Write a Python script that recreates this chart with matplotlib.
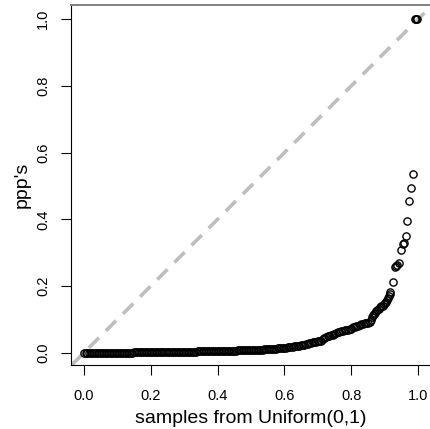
import matplotlib
matplotlib.use("Agg")
import matplotlib.pyplot as plt

# sorted uniform samples (x) and their ppp values (y)
x_flat = [0.000, 0.005, 0.010, 0.015, 0.020, 0.025, 0.030, 0.035, 0.040, 0.045,
          0.050, 0.055, 0.060, 0.065, 0.070, 0.075, 0.080, 0.085, 0.090, 0.095,
          0.100, 0.105, 0.110, 0.115, 0.120, 0.125, 0.130, 0.135, 0.140, 0.145,
          0.150, 0.155, 0.160, 0.165, 0.170, 0.175, 0.180, 0.185, 0.190, 0.195,
          0.200, 0.205, 0.210, 0.215, 0.220, 0.225, 0.230, 0.235, 0.240, 0.245,
          0.250, 0.255, 0.260, 0.265, 0.270, 0.275, 0.280, 0.285, 0.290, 0.295,
          0.300, 0.305, 0.310, 0.315, 0.320, 0.325, 0.330, 0.335, 0.340, 0.345,
          0.350, 0.355, 0.360, 0.365, 0.370, 0.375, 0.380, 0.385, 0.390, 0.395,
          0.400, 0.405, 0.410, 0.415, 0.420, 0.425, 0.430, 0.435, 0.440, 0.445,
          0.450, 0.455, 0.460, 0.465, 0.470, 0.475, 0.480, 0.485, 0.490, 0.495,
          0.500, 0.505, 0.510, 0.515, 0.520, 0.525, 0.530, 0.535, 0.540, 0.545,
          0.550, 0.555, 0.560, 0.565, 0.570, 0.575, 0.580, 0.585, 0.590, 0.595,
          0.600, 0.605, 0.610, 0.615, 0.620, 0.625, 0.630, 0.635, 0.640, 0.645,
          0.650, 0.655, 0.660, 0.665, 0.670, 0.675, 0.680, 0.685, 0.690, 0.695,
          0.700, 0.705, 0.710, 0.715, 0.720, 0.725, 0.730, 0.735, 0.740, 0.745,
          0.750, 0.755, 0.760, 0.765, 0.770, 0.775, 0.780, 0.785, 0.790, 0.795,
          0.800, 0.805, 0.810, 0.815, 0.820, 0.825, 0.830, 0.835, 0.840, 0.845,
          0.850]
y_flat = [0.000, 0.000, 0.000, 0.000, 0.000, 0.000, 0.000, 0.000, 0.000, 0.000,
          0.000, 0.000, 0.000, 0.000, 0.000, 0.000, 0.000, 0.000, 0.000, 0.000,
          0.000, 0.000, 0.000, 0.000, 0.000, 0.000, 0.000, 0.000, 0.000, 0.000,
          0.001, 0.001, 0.001, 0.001, 0.001, 0.001, 0.001, 0.001, 0.001, 0.001,
          0.001, 0.001, 0.001, 0.001, 0.001, 0.001, 0.001, 0.001, 0.002, 0.002,
          0.002, 0.002, 0.002, 0.002, 0.002, 0.002, 0.002, 0.002, 0.003, 0.003,
          0.003, 0.003, 0.003, 0.003, 0.003, 0.003, 0.003, 0.003, 0.004, 0.004,
          0.004, 0.004, 0.004, 0.004, 0.004, 0.004, 0.005, 0.005, 0.005, 0.005,
          0.005, 0.005, 0.005, 0.005, 0.006, 0.006, 0.006, 0.006, 0.006, 0.006,
          0.006, 0.006, 0.007, 0.007, 0.007, 0.007, 0.007, 0.007, 0.008, 0.008,
          0.008, 0.008, 0.008, 0.008, 0.009, 0.009, 0.009, 0.009, 0.010, 0.010,
          0.010, 0.010, 0.011, 0.011, 0.012, 0.012, 0.013, 0.013, 0.014, 0.014,
          0.015, 0.015, 0.016, 0.016, 0.017, 0.018, 0.019, 0.020, 0.021, 0.021,
          0.022, 0.023, 0.024, 0.025, 0.026, 0.028, 0.030, 0.031, 0.032, 0.033,
          0.034, 0.035, 0.036, 0.040, 0.045, 0.048, 0.050, 0.051, 0.052, 0.053,
          0.055, 0.060, 0.062, 0.063, 0.064, 0.066, 0.067, 0.068, 0.068, 0.070,
          0.072, 0.076, 0.078, 0.079, 0.080, 0.083, 0.086, 0.087, 0.088, 0.089,
          0.090]

x_tail = [0.855, 0.858, 0.861, 0.864, 0.868, 0.871, 0.875, 0.878, 0.882, 0.886,
          0.890, 0.894, 0.898, 0.902, 0.905, 0.908, 0.911, 0.913, 0.915, 0.917,
          0.925, 0.930, 0.933, 0.936, 0.942, 0.948, 0.955, 0.958, 0.963, 0.968,
          0.974, 0.980, 0.984, 0.990, 0.993, 0.996]
y_tail = [0.093, 0.098, 0.106, 0.113, 0.117, 0.120, 0.124, 0.128, 0.132, 0.136,
          0.139, 0.141, 0.145, 0.148, 0.153, 0.158, 0.165, 0.171, 0.176, 0.181,
          0.212, 0.256, 0.260, 0.263, 0.268, 0.308, 0.325, 0.330, 0.350, 0.396,
          0.456, 0.494, 0.537, 1.000, 1.000, 1.000]

ticks = [0.0, 0.2, 0.4, 0.6, 0.8, 1.0]
tick_labels = ["0.0", "0.2", "0.4", "0.6", "0.8", "1.0"]

plt.rcParams["font.family"] = ["Liberation Sans", "DejaVu Sans"]

fig = plt.figure(figsize=(4.30, 4.29), dpi=100)
ax = fig.add_axes([0.1651, 0.1492, 0.8349, 0.8392])

ax.axline((0, 0), slope=1, color="#bebebe", lw=2.6, dashes=(4, 2.7), zorder=1)
ax.plot(x_flat + x_tail, y_flat + y_tail, "o", ms=5.2, mfc="none",
        mec="black", mew=1.0, zorder=2)

ax.set_xlim(-0.039, 1.036)
ax.set_ylim(-0.037, 1.043)
ax.set_xticks(ticks)
ax.set_xticklabels(tick_labels)
ax.set_yticks(ticks)
ax.set_yticklabels(tick_labels, rotation=90, va="center")
ax.tick_params(length=7, width=0.8, labelsize=10.5, colors="black")
ax.tick_params(axis="x", pad=10)
ax.tick_params(axis="y", pad=8)

for side in ("left", "bottom"):
    ax.spines[side].set_color("black")
    ax.spines[side].set_linewidth(0.8)
ax.spines["top"].set_color("#808080")
ax.spines["top"].set_linewidth(1.4)
ax.spines["right"].set_visible(False)

ax.set_xlabel("samples from Uniform(0,1)", fontsize=14, labelpad=5.5)
ax.set_ylabel("ppp's", fontsize=14, labelpad=4)

fig.savefig("out.png", dpi=100)
